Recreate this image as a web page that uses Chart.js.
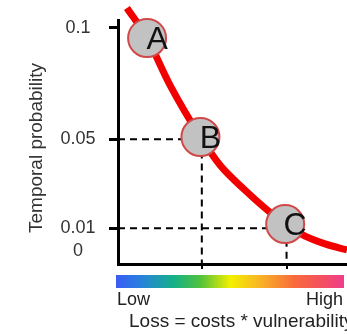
<!DOCTYPE html>
<html>
<head>
<meta charset="utf-8">
<script src="https://cdn.jsdelivr.net/npm/chart.js@4/dist/chart.umd.min.js"></script>
<style>
html,body{margin:0;padding:0;background:#fff;}
#wrap{width:347px;height:334px;position:relative;}
</style>
</head>
<body>
<div id="wrap"><canvas id="c" width="347" height="334"></canvas></div>
<script>
// ---- data ----
const probTicks = [0, 0.01, 0.05, 0.1];
const probTickLabels = ['0', '0.01', '0.05', '0.1'];
const curveLoss = [3.9, 12.7, 22.7, 36.0, 44.5, 55.5, 64.2, 73.0, 81.7, 90.4, 100];
const curveProb = [0.1089, 0.0954, 0.0743, 0.0510, 0.0384, 0.0271, 0.0191, 0.0119, 0.0065, 0.0030, 0.0003];
const scenarioNames = ['A', 'B', 'C'];
const scenarioLoss = [12.7, 36.0, 73.0];
const scenarioProb = [0.0954, 0.0510, 0.0119];
const guideLoss = [36.6, 73.6];
const guideProb = [0.05, 0.01];
const colorbarLabels = ['Low', 'High'];
const xTitle = 'Loss = costs * vulnerability';
const yTitle = 'Temporal probability';
const yMin = -0.006, yMax = 0.1035, xMin = 0, xMax = 100;

const FONT = "'Liberation Sans', Arial, sans-serif";

const curveData = curveLoss.map((x, i) => ({x, y: curveProb[i]}));
const scenarioData = scenarioLoss.map((x, i) => ({x, y: scenarioProb[i]}));
const guideSets = guideLoss.map((gx, i) => ({
  type: 'line',
  data: [{x: xMin, y: guideProb[i]}, {x: gx, y: guideProb[i]}, {x: gx, y: yMin}],
  borderColor: '#000', borderWidth: 2, borderDash: [7, 5],
  pointRadius: 0, tension: 0, fill: false, order: 3
}));

const decor = {
  id: 'decor',
  afterDatasetsDraw(chart) {
    const ctx = chart.ctx, xs = chart.scales.x, ys = chart.scales.y;
    ctx.save();
    ctx.fillStyle = '#111';
    ctx.font = '32px ' + FONT;
    ctx.textAlign = 'center';
    ctx.textBaseline = 'middle';
    scenarioNames.forEach((n, i) => {
      const px = xs.getPixelForValue(scenarioLoss[i]);
      const py = ys.getPixelForValue(scenarioProb[i]);
      ctx.fillText(n, px + 10, py + 2);
    });
    ctx.restore();
  },
  afterDraw(chart) {
    const ctx = chart.ctx, xs = chart.scales.x, ys = chart.scales.y;
    const L = xs.left, R = xs.right, B = chart.chartArea.bottom, T = chart.chartArea.top;
    ctx.save();
    // y-axis title
    ctx.save();
    ctx.translate(ys.left + 37, (T + B) / 2 + 6);
    ctx.rotate(-Math.PI / 2);
    ctx.fillStyle = '#333';
    ctx.font = '19px ' + FONT;
    ctx.textAlign = 'center';
    ctx.textBaseline = 'middle';
    ctx.fillText(yTitle, 0, 0);
    ctx.restore();
    // colour bar
    const g = ctx.createLinearGradient(L - 2, 0, R - 2, 0);
    g.addColorStop(0, '#3a5cf2');
    g.addColorStop(0.1, '#2a7ee0');
    g.addColorStop(0.25, '#14b08a');
    g.addColorStop(0.37, '#52c23c');
    g.addColorStop(0.5, '#f4f000');
    g.addColorStop(0.62, '#f8b824');
    g.addColorStop(0.78, '#f86a3c');
    g.addColorStop(0.9, '#f45060');
    g.addColorStop(1, '#f03c8e');
    ctx.fillStyle = g;
    ctx.fillRect(L - 2, B + 11, R - L - 1, 13);
    ctx.fillStyle = '#222';
    ctx.font = '18px ' + FONT;
    ctx.textBaseline = 'alphabetic';
    ctx.textAlign = 'left';
    ctx.fillText(colorbarLabels[0], L - 1, B + 41);
    ctx.textAlign = 'right';
    ctx.fillText(colorbarLabels[1], R - 4, B + 41);
    ctx.font = '19px ' + FONT;
    ctx.textAlign = 'left';
    ctx.fillText(xTitle, L + 11, B + 63);
    ctx.restore();
  }
};

new Chart(document.getElementById('c'), {
  type: 'line',
  data: {
    datasets: [
      {
        type: 'line', data: scenarioData, showLine: false,
        pointRadius: 19, pointHoverRadius: 19,
        pointBackgroundColor: '#c2c2c2', pointBorderColor: '#d04848', pointBorderWidth: 2,
        order: 1, clip: false
      },
      {
        type: 'line', data: curveData, borderColor: '#f20000', borderWidth: 7,
        pointRadius: 0, cubicInterpolationMode: 'monotone', fill: false,
        borderCapStyle: 'butt', order: 2, clip: false
      },
      ...guideSets
    ]
  },
  options: {
    responsive: false,
    animation: false,
    events: [],
    layout: {autoPadding: false, padding: {top: 20, right: 0, left: 0, bottom: 0}},
    plugins: {legend: {display: false}, tooltip: {enabled: false}},
    scales: {
      x: {
        type: 'linear', min: xMin, max: xMax,
        afterBuildTicks: s => { s.ticks = guideLoss.map(v => ({value: v})); },
        afterFit: s => { s.height = 70; s.paddingLeft = 0; s.paddingRight = 0; },
        ticks: {display: false},
        grid: {drawOnChartArea: false, tickLength: 5, lineWidth: 2, color: '#000'},
        border: {display: true, width: 3, color: '#000'}
      },
      y: {
        type: 'linear', min: yMin, max: yMax,
        afterBuildTicks: s => { s.ticks = probTicks.map(v => ({value: v})); },
        afterFit: s => { s.width = 118; s.paddingTop = 0; s.paddingBottom = 0; },
        ticks: {
          callback: (v) => { const i = probTicks.indexOf(v); return i >= 0 ? probTickLabels[i] : ''; },
          font: {family: FONT, size: 18}, color: '#333',
          crossAlign: 'center', padding: 13.5
        },
        grid: {
          drawOnChartArea: false, tickLength: 9, lineWidth: 3,
          color: c => (c.tick && c.tick.value === 0) ? 'rgba(0,0,0,0)' : '#000'
        },
        border: {display: true, width: 3, color: '#000'},
        title: {display: false}
      }
    }
  },
  plugins: [decor]
});
</script>
</body>
</html>
